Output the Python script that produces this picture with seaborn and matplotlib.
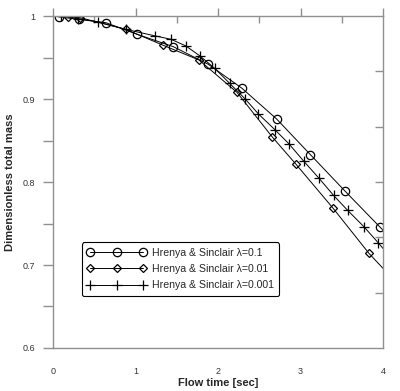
import matplotlib
matplotlib.use("Agg")
import matplotlib.pyplot as plt
import seaborn as sns
import numpy as np
from matplotlib.ticker import MultipleLocator, FixedLocator

sns.set_style("white")
plt.rcParams['font.family'] = ['Liberation Sans', 'DejaVu Sans']

# series: lambda = 0.1 (circles)
t_01 = [0.07, 0.31, 0.64, 1.02, 1.46, 1.88, 2.29, 2.71, 3.12, 3.54, 3.96, 4.0]
m_01 = [0.999, 0.996, 0.992, 0.978, 0.963, 0.942, 0.913, 0.876, 0.833, 0.789, 0.746, 0.742]
# series: lambda = 0.01 (diamonds)
t_001 = [0.18, 0.33, 0.88, 1.33, 1.77, 2.23, 2.66, 2.94, 3.39, 3.83, 4.0]
m_001 = [0.999, 0.998, 0.984, 0.965, 0.947, 0.908, 0.854, 0.822, 0.769, 0.714, 0.696]
# series: lambda = 0.001 (plus)
t_0001 = [0.10, 0.30, 0.54, 0.88, 1.24, 1.43, 1.61, 1.78, 1.96, 2.14, 2.33, 2.49,
          2.69, 2.86, 3.04, 3.22, 3.40, 3.57, 3.77, 3.94, 4.0]
m_0001 = [1.000, 0.997, 0.993, 0.984, 0.976, 0.972, 0.964, 0.952, 0.937, 0.919, 0.900, 0.882,
          0.863, 0.846, 0.825, 0.805, 0.784, 0.766, 0.746, 0.727, 0.720]

labels = ["Hrenya & Sinclair λ=0.1", "Hrenya & Sinclair λ=0.01", "Hrenya & Sinclair λ=0.001"]
x_ticks = [0, 1, 2, 3, 4]
y_ticks = [0.6, 0.7, 0.8, 0.9, 1.0]
y_ticklabels = ["0.6", "0.7", "0.8", "0.9", "1"]

fig = plt.figure(figsize=(4.0, 3.91), dpi=100)
ax = fig.add_axes([0.1325, 0.110, 0.825, 0.849])

common = dict(color='black', linewidth=0.7, markerfacecolor='none',
              markeredgecolor='black', ax=ax, sort=False, estimator=None)
sns.lineplot(x=t_01, y=m_01, marker='o', markersize=6, markeredgewidth=0.9,
             markevery=list(range(len(t_01) - 1)), label=labels[0], **common)
sns.lineplot(x=t_001, y=m_001, marker='D', markersize=4.2, markeredgewidth=0.9,
             markevery=list(range(len(t_001) - 1)), label=labels[1], **common)
sns.lineplot(x=t_0001, y=m_0001, marker='+', markersize=7, markeredgewidth=0.9,
             markevery=list(range(len(t_0001) - 1)), label=labels[2], **common)

ax.set_xlim(0, 4)
ax.set_ylim(0.6, 1.0)
ax.set_xticks(x_ticks)
ax.set_xticklabels([str(v) for v in x_ticks])
ax.xaxis.set_minor_locator(MultipleLocator(0.5))
ax.set_yticks(y_ticks)
ax.set_yticklabels(y_ticklabels)
ax.yaxis.set_minor_locator(MultipleLocator(0.05))

grey = '#909090'
for s in ax.spines.values():
    s.set_color(grey)
    s.set_linewidth(1.0)
    s.set_visible(True)

ax.tick_params(axis='x', which='major', direction='out', length=6, width=1, color=grey,
               labelsize=6.5, labelcolor='#333333', pad=8)
ax.tick_params(axis='x', which='minor', direction='in', length=5, width=1, color=grey,
               top=True)
ax.tick_params(axis='x', which='major', top=True)
ax.tick_params(axis='y', which='major', direction='out', length=7, width=1, color=grey,
               labelsize=6.5, labelcolor='#333333', pad=6, left=True)
ax.tick_params(axis='y', which='minor', direction='out', length=7, width=1, color=grey, left=True)

ax.set_xlabel("Flow time [sec]", fontsize=8, fontweight='bold', labelpad=1)
ax.set_ylabel("Dimensionless total mass", fontsize=8, fontweight='bold', labelpad=5)

# right-side inward ticks (separate 6-interval scale)
axr = ax.twinx()
axr.set_ylim(0, 6)
axr.yaxis.set_major_locator(FixedLocator([1, 2, 3, 4, 5]))
axr.tick_params(axis='y', direction='in', length=6, width=1, color=grey, labelright=False)
for s in axr.spines.values():
    s.set_visible(False)

leg = ax.legend(loc='upper left', bbox_to_anchor=(0.088, 0.318), fontsize=7.6,
                frameon=True, fancybox=True, numpoints=3, handlelength=5.6,
                handletextpad=0.5, borderpad=0.5, labelspacing=0.6, borderaxespad=0)
leg.get_frame().set_edgecolor('black')
leg.get_frame().set_linewidth(0.8)
leg.get_frame().set_alpha(1)

fig.savefig("out.png", dpi=100)
